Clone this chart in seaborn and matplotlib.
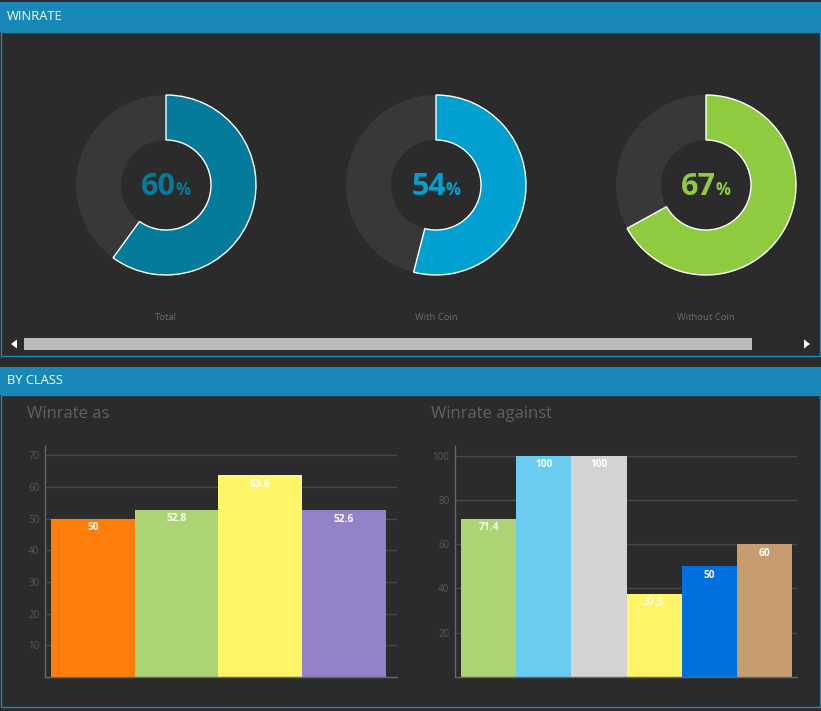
import matplotlib
matplotlib.use("Agg")
import matplotlib.pyplot as plt
import seaborn as sns
from matplotlib.patches import Rectangle, Wedge, Polygon

W, H = 821, 711

# -----------------------------
# data
# -----------------------------
donut_labels = ["Total", "With Coin", "Without Coin"]
donut_values = [60, 54, 67]
donut_colors = ["#047b9b", "#00a1d1", "#8ecb3f"]

as_classes = ["Druid", "Hunter", "Rogue", "Warlock"]
as_winrate = [50, 52.8, 63.6, 52.6]
as_colors = ["#ff7d0a", "#abd473", "#fff569", "#9482c9"]
as_ticks = [10, 20, 30, 40, 50, 60, 70]

vs_classes = ["Hunter", "Mage", "Priest", "Rogue", "Shaman", "Warrior"]
vs_winrate = [71.4, 100, 100, 37.5, 50, 60]
vs_colors = ["#abd473", "#69ccf0", "#d3d3d3", "#fff569", "#0070de", "#c79c6e"]
vs_ticks = [20, 40, 60, 80, 100]

BG = "#2b2b2b"
HEADER = "#1888b8"
RING = "#383838"
GRID = "#484848"
SPINE = "#666666"
TICK = "#585858"

sns.set_theme(style="dark", rc={"axes.facecolor": BG, "figure.facecolor": BG})
plt.rcParams["font.family"] = ["Open Sans", "DejaVu Sans"]

fig = plt.figure(figsize=(W / 100, H / 100), dpi=100, facecolor=BG)


def px_axes(x0, y0, x1, y1):
    return fig.add_axes([x0 / W, 1 - y1 / H, (x1 - x0) / W, (y1 - y0) / H])


# -----------------------------
# background / panels (pixel coords)
# -----------------------------
bg = px_axes(0, 0, W, H)
bg.set_xlim(0, W)
bg.set_ylim(H, 0)
bg.axis("off")

bg.add_patch(Rectangle((0, 2), W, 30, color=HEADER, lw=0))
bg.text(7, 17, "WINRATE", color="white", fontsize=9.3, va="center")
bg.add_patch(Rectangle((0.5, 32), W - 2, 324, fc="none", ec=HEADER, lw=1))

bg.add_patch(Rectangle((0, 367), W, 28, color=HEADER, lw=0))
bg.text(7, 381, "BY CLASS", color="white", fontsize=9.3, va="center")
bg.add_patch(Rectangle((0.5, 395), W - 2, 312, fc="none", ec=HEADER, lw=1))

# scrollbar
bg.add_patch(Rectangle((24, 338), 728, 12, color="#bcbcbc", lw=0))
bg.add_patch(Polygon([(11, 344), (17, 339.5), (17, 348.5)], color="white", lw=0))
bg.add_patch(Polygon([(810, 344), (804, 339.5), (804, 348.5)], color="white", lw=0))

bg.text(27, 414, "Winrate as", color="#606060", fontsize=12, va="center")
bg.text(431, 414, "Winrate against", color="#606060", fontsize=12, va="center")

# -----------------------------
# donuts
# -----------------------------
centers = [166, 436, 706]
for cx, lab, val, col in zip(centers, donut_labels, donut_values, donut_colors):
    ax = px_axes(cx - 100, 85, cx + 100, 285)
    ax.set_xlim(-100, 100)
    ax.set_ylim(-100, 100)
    ax.set_aspect("equal")
    ax.axis("off")
    ax.add_patch(Wedge((0, 0), 90, 0, 360, width=45, fc=RING, lw=0))
    ax.add_patch(Wedge((0, 0), 90, 90 - 3.6 * val, 90, width=45,
                       fc=col, ec="white", lw=1))
    ax.text(10, -10, str(val), color=col, fontsize=22, fontweight="bold",
            ha="right", va="baseline")
    ax.text(9, -10, "%", color=col, fontsize=12, fontweight="bold",
            ha="left", va="baseline")
    bg.text(cx, 317, lab, color="#6a6a72", fontsize=6.8, ha="center", va="center")


# -----------------------------
# bar charts
# -----------------------------
def bar_chart(box, cats, vals, cols, ticks, ymax, xlim):
    ax = px_axes(*box)
    sns.barplot(x=list(range(len(cats))), y=vals, hue=list(range(len(cats))),
                palette=cols, width=1, saturation=1, linewidth=0,
                legend=False, ax=ax)
    ax.set_ylim(0, ymax)
    ax.set_xlim(*xlim)
    ax.set_yticks(ticks)
    ax.set_xticks([])
    ax.set_xlabel("")
    ax.set_ylabel("")
    ax.set_facecolor(BG)
    ax.grid(axis="y", color=GRID, lw=1)
    ax.set_axisbelow(True)
    for s in ["top", "right"]:
        ax.spines[s].set_visible(False)
    for s in ["left", "bottom"]:
        ax.spines[s].set_visible(True)
        ax.spines[s].set_color(SPINE)
        ax.spines[s].set_linewidth(1)
    ax.tick_params(axis="y", length=0, pad=4, labelsize=7, labelcolor=TICK)
    for i, v in enumerate(vals):
        ax.annotate(f"{v:g}", xy=(i, v), xytext=(0, -2.5), textcoords="offset points",
                    ha="center", va="top", color="white", fontsize=7.3,
                    fontweight="bold")
    return ax


bar_chart((45, 446, 397, 677), as_classes, as_winrate, as_colors, as_ticks,
          72.9, (-0.571, 3.631))
bar_chart((455, 446, 797, 677), vs_classes, vs_winrate, vs_colors, vs_ticks,
          104.4, (-0.609, 5.59))

fig.savefig("out.png", dpi=100, facecolor=BG)
